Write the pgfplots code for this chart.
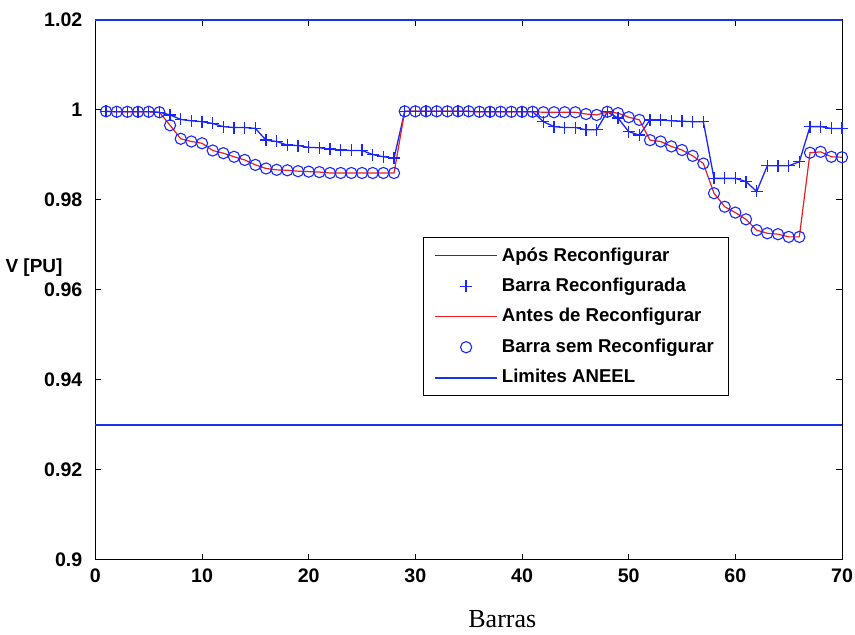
\documentclass[border=0pt]{standalone}
\usepackage{pgfplots}
\pgfplotsset{compat=1.18}
\usepackage{pgfplotstable}
\usepackage{fontspec}
\setmainfont{Liberation Sans}
\newfontfamily\serifrm{Liberation Serif}

\definecolor{mblue}{rgb}{0.1,0.15,1}
\definecolor{mred}{rgb}{0.92,0.12,0.12}
\definecolor{limblue}{rgb}{0.1,0.2,0.9}

% Tensao por barra: antes e apos a reconfiguracao
\pgfplotstableread{
barra antes apos
1  0.9997 0.9997
2  0.9996 0.9996
3  0.9996 0.9996
4  0.9996 0.9996
5  0.9996 0.9996
6  0.9995 0.9995
7  0.9966 0.9989
8  0.9936 0.9979
9  0.9930 0.9976
10 0.9926 0.9974
11 0.9910 0.9970
12 0.9904 0.9963
13 0.9896 0.9961
14 0.9889 0.9961
15 0.9878 0.9959
16 0.9870 0.9933
17 0.9867 0.9930
18 0.9866 0.9922
19 0.9864 0.9921
20 0.9863 0.9917
21 0.9862 0.9916
22 0.9860 0.9913
23 0.9860 0.9911
24 0.9860 0.9910
25 0.9860 0.9910
26 0.9860 0.9901
27 0.9860 0.9896
28 0.9860 0.9893
29 0.9997 0.9997
30 0.9997 0.9997
31 0.9997 0.9997
32 0.9997 0.9997
33 0.9997 0.9997
34 0.9997 0.9997
35 0.9997 0.9997
36 0.9996 0.9996
37 0.9996 0.9996
38 0.9996 0.9996
39 0.9996 0.9996
40 0.9996 0.9996
41 0.9996 0.9996
42 0.9995 0.9974
43 0.9995 0.9963
44 0.9995 0.9961
45 0.9995 0.9961
46 0.9991 0.9956
47 0.9989 0.9956
48 0.9996 0.9996
49 0.9993 0.9982
50 0.9984 0.9952
51 0.9978 0.9944
52 0.9933 0.9978
53 0.9930 0.9978
54 0.9919 0.9976
55 0.9911 0.9975
56 0.9898 0.9974
57 0.9881 0.9974
58 0.9815 0.9848
59 0.9785 0.9848
60 0.9772 0.9848
61 0.9757 0.9841
62 0.9733 0.9819
63 0.9726 0.9876
64 0.9724 0.9876
65 0.9718 0.9876
66 0.9718 0.9885
67 0.9905 0.9963
68 0.9907 0.9963
69 0.9896 0.9959
70 0.9895 0.9959
}\tensoes

% Limites de tensao
\pgfplotstableread{
barra v
0  0.93
70 0.93
}\liminf
\pgfplotstableread{
barra v
0  1.02
70 1.02
}\limsup

\begin{document}
\begin{tikzpicture}
\begin{axis}[
  scale only axis, width=373.3pt, height=270pt,
  xmin=0, xmax=70, ymin=0.9, ymax=1.02,
  xtick={0,10,20,30,40,50,60,70},
  ytick={0.9,0.92,0.94,0.96,0.98,1,1.02},
  tick align=inside, major tick length=3pt,
  tick style={black, line width=0.5pt},
  axis line style={line width=0.5pt},
  /pgf/number format/assume math mode=true,
  tick label style={font=\bfseries\fontsize{9.8}{11}\selectfont},
  yticklabel style={xshift=-3pt},
  xticklabel style={yshift=-1pt},
  clip=false,
  xlabel={Barras},
  xlabel style={font=\serifrm\fontsize{13}{15}\selectfont,
    at={(axis description cs:0.545,-0.092)}, anchor=north, inner sep=0pt},
  ylabel={V [PU]},
  ylabel style={rotate=-90, font=\bfseries\fontsize{9.5}{11}\selectfont,
    at={(axis description cs:-0.0435,0.541)}, anchor=east, inner sep=0pt},
  legend style={at={(axis cs:30.7,0.9718)}, anchor=north west,
    font=\bfseries\fontsize{9.3}{11}\selectfont, text=black,
    line width=0.5pt, row sep=3pt,
    inner xsep=5.5pt, inner ysep=3pt, cells={anchor=west}},
  legend image code/.code={\draw[mark repeat=2,mark phase=2,#1]
    plot coordinates {(0pt,0pt) (15.5pt,0pt) (31pt,0pt)};},
]
\coordinate (sw) at (rel axis cs:0,0);
\coordinate (ne) at (rel axis cs:1,1);

% the sample for this line is a thin filled bar in the line colour
\addplot[color=mblue, draw=mblue, line width=0.65pt, mark=none,
  legend image code/.code={%
    \fill[mblue, draw=none] (0pt,-0.35pt) rectangle (31pt,0.35pt);}]
  table[x=barra, y=apos]{\tensoes};
\addlegendentry{Após Reconfigurar}
\addplot[color=mblue, only marks, mark=+, mark size=3pt, mark options={draw=mblue, line width=0.7pt}]
  table[x=barra, y=apos]{\tensoes};
\addlegendentry{Barra Reconfigurada}
\addplot[color=mred, draw=mred, line width=0.6pt, mark=none]
  table[x=barra, y=antes]{\tensoes};
\addlegendentry{Antes de Reconfigurar}
\addplot[color=mblue, only marks, mark=o, mark size=2.8pt, mark options={draw=mblue, line width=0.55pt}]
  table[x=barra, y=antes]{\tensoes};
\addlegendentry{Barra sem Reconfigurar}
\addplot[color=limblue, draw=limblue, line width=0.8pt, mark=none] table[x=barra, y=v]{\liminf};
\addlegendentry{Limites ANEEL}
\addplot[color=limblue, draw=limblue, line width=0.9pt, mark=none, forget plot] table[x=barra, y=v]{\limsup};
\end{axis}
\pgfresetboundingbox
\path ([xshift=-47.7pt,yshift=-37.5pt]sw) rectangle ([xshift=6.5pt,yshift=10pt]ne);
\end{tikzpicture}
\end{document}
